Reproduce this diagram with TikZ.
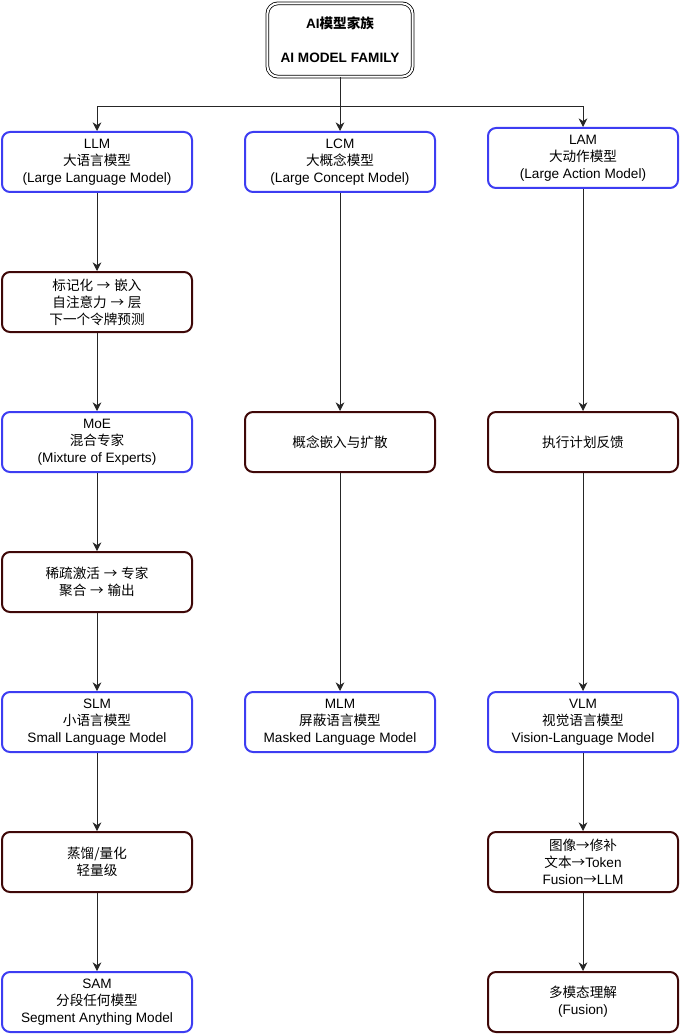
\documentclass[tikz,border=0pt]{standalone}
\usepackage{fontspec}
\setmainfont{Liberation Sans}
\newfontfamily\cjk{Noto Sans CJK SC}
\newcommand{\zh}[1]{{\cjk #1}}
\newcommand{\ra}{{\cjk →}}
\usetikzlibrary{arrows.meta}
\definecolor{modelblue}{HTML}{3D3DF2}
\definecolor{stepbrown}{HTML}{3F0808}

\begin{document}
\begin{tikzpicture}[x=0.75pt, y=-0.75pt,
  font=\fontsize{10.2}{12.75}\selectfont,
  model/.style={draw=modelblue, line width=1.5pt, rounded corners=6pt,
    fill=white, align=center, inner sep=0pt,
    minimum width=142.5pt, minimum height=45pt},
  stage/.style={model, draw=stepbrown},
  arr/.style={draw=black!85, line width=0.6pt,
    -{Stealth[length=6.5pt, width=6.5pt]}}]
  \useasboundingbox (0,0) rectangle (680,1034);
  % Spaltenmitten (in px)
  \def\ca{97} \def\cb{340} \def\cc{583}
  % Kopf
  \node[draw, double, double distance=1.5pt, line width=0.6pt,
    rounded corners=8pt, align=center, inner sep=0pt,
    minimum width=109pt, minimum height=55pt,
    font=\fontsize{10.2}{12.75}\selectfont\bfseries]
    (family) at (340,40) {AI{\cjk\bfseries 模型家族}\\[13pt]AI MODEL FAMILY};
  % linke Spalte
  \node[model] (llm) at (\ca,162) {LLM\\\zh{大语言模型}\\(Large Language Model)};
  \node[stage] (token) at (\ca,302) {\zh{标记化} \ra{} \zh{嵌入}\\\zh{自注意力} \ra{} \zh{层}\\\zh{下一个令牌预测}};
  \node[model] (moe) at (\ca,442) {MoE\\\zh{混合专家}\\(Mixture of Experts)};
  \node[stage] (sparse) at (\ca,582) {\zh{稀疏激活} \ra{} \zh{专家}\\\zh{聚合} \ra{} \zh{输出}};
  \node[model] (slm) at (\ca,722) {SLM\\\zh{小语言模型}\\Small Language Model};
  \node[stage] (distill) at (\ca,862) {\zh{蒸馏/量化}\\\zh{轻量级}};
  \node[model] (sam) at (\ca,1002) {SAM\\\zh{分段任何模型}\\Segment Anything Model};
  % mittlere Spalte
  \node[model] (lcm) at (\cb,162) {LCM\\\zh{大概念模型}\\(Large Concept Model)};
  \node[stage] (concept) at (\cb,442) {\zh{概念嵌入与扩散}};
  \node[model] (mlm) at (\cb,722) {MLM\\\zh{屏蔽语言模型}\\Masked Language Model};
  % rechte Spalte
  \node[model] (lam) at (\cc,158) {LAM\\\zh{大动作模型}\\(Large Action Model)};
  \node[stage] (plan) at (\cc,442) {\zh{执行计划反馈}};
  \node[model] (vlm) at (\cc,722) {VLM\\\zh{视觉语言模型}\\Vision-Language Model};
  \node[stage] (image) at (\cc,862) {\zh{图像}\ra\zh{修补}\\\zh{文本}\ra{}Token\\Fusion\ra{}LLM};
  \node[stage] (fusion) at (\cc,1002) {\zh{多模态理解}\\(Fusion)};
  % Verzweigung
  \coordinate (fork) at (\cb,106);
  \draw[arr] (family.south) -- (fork) -| (llm.north);
  \draw[arr] (fork) -| (lam.north);
  \draw[arr] (fork) -- (lcm.north);
  \foreach \a/\b in {llm/token, token/moe, moe/sparse, sparse/slm, slm/distill,
      distill/sam, lcm/concept, concept/mlm, lam/plan, plan/vlm, vlm/image, image/fusion}
    \draw[arr] (\a) -- (\b);
\end{tikzpicture}
\end{document}
